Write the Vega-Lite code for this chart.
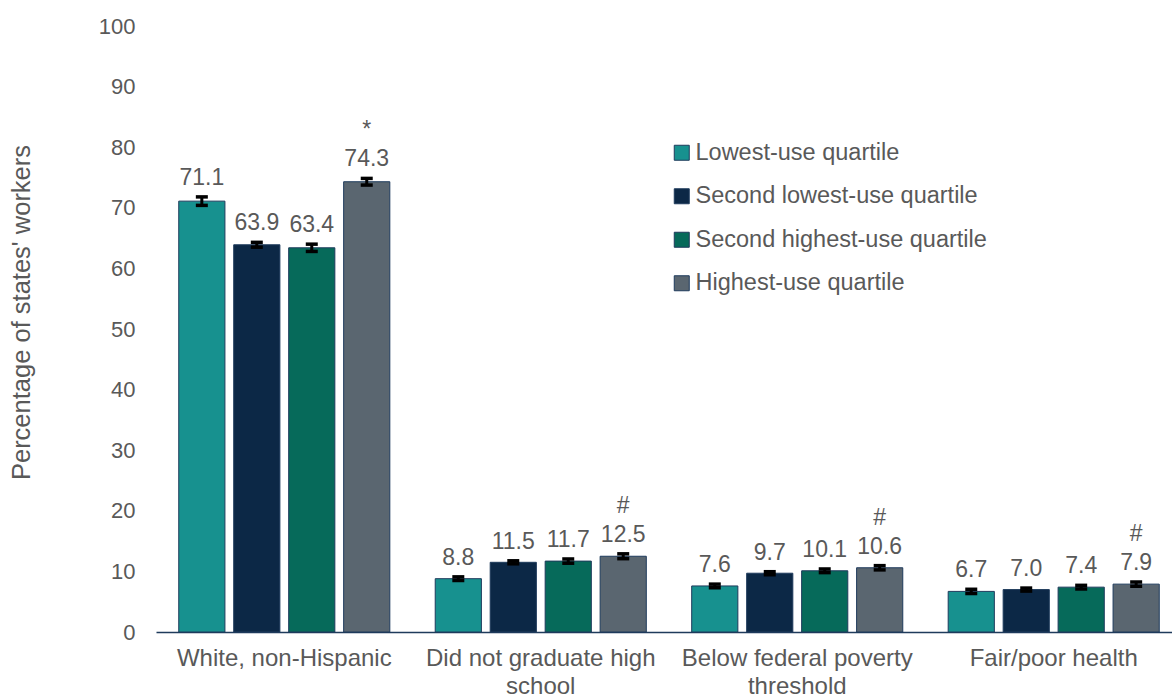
{
  "$schema": "https://vega.github.io/schema/vega-lite/v6.json",
  "width": 1016,
  "height": 606,
  "autosize": {"type": "none"},
  "padding": {"left": 156, "top": 26, "right": 0, "bottom": 66},
  "background": "#ffffff",
  "config": {
    "font": "Liberation Sans",
    "view": {"stroke": null},
    "axis": {"grid": false, "ticks": false, "labelColor": "#595959", "titleColor": "#595959", "labelFont": "Liberation Sans", "titleFont": "Liberation Sans", "titleFontWeight": "normal"}
  },
  "data": {
    "values": [
      {"group": "White, non-Hispanic", "quartile": "Lowest-use quartile", "value": 71.1, "lo": 70.4, "hi": 71.8, "note": ""},
      {"group": "White, non-Hispanic", "quartile": "Second lowest-use quartile", "value": 63.9, "lo": 63.5, "hi": 64.3, "note": ""},
      {"group": "White, non-Hispanic", "quartile": "Second highest-use quartile", "value": 63.4, "lo": 62.8, "hi": 64.0, "note": ""},
      {"group": "White, non-Hispanic", "quartile": "Highest-use quartile", "value": 74.3, "lo": 73.75, "hi": 74.85, "note": "*"},
      {"group": "Did not graduate high school", "quartile": "Lowest-use quartile", "value": 8.8, "lo": 8.5, "hi": 9.1, "note": ""},
      {"group": "Did not graduate high school", "quartile": "Second lowest-use quartile", "value": 11.5, "lo": 11.25, "hi": 11.75, "note": ""},
      {"group": "Did not graduate high school", "quartile": "Second highest-use quartile", "value": 11.7, "lo": 11.35, "hi": 12.05, "note": ""},
      {"group": "Did not graduate high school", "quartile": "Highest-use quartile", "value": 12.5, "lo": 12.1, "hi": 12.9, "note": "#"},
      {"group": "Below federal poverty threshold", "quartile": "Lowest-use quartile", "value": 7.6, "lo": 7.3, "hi": 7.9, "note": ""},
      {"group": "Below federal poverty threshold", "quartile": "Second lowest-use quartile", "value": 9.7, "lo": 9.45, "hi": 9.95, "note": ""},
      {"group": "Below federal poverty threshold", "quartile": "Second highest-use quartile", "value": 10.1, "lo": 9.8, "hi": 10.4, "note": ""},
      {"group": "Below federal poverty threshold", "quartile": "Highest-use quartile", "value": 10.6, "lo": 10.25, "hi": 10.95, "note": "#"},
      {"group": "Fair/poor health", "quartile": "Lowest-use quartile", "value": 6.7, "lo": 6.35, "hi": 7.05, "note": ""},
      {"group": "Fair/poor health", "quartile": "Second lowest-use quartile", "value": 7.0, "lo": 6.75, "hi": 7.25, "note": ""},
      {"group": "Fair/poor health", "quartile": "Second highest-use quartile", "value": 7.4, "lo": 7.1, "hi": 7.7, "note": ""},
      {"group": "Fair/poor health", "quartile": "Highest-use quartile", "value": 7.9, "lo": 7.55, "hi": 8.25, "note": "#"}
    ]
  },
  "encoding": {
    "x": {
      "field": "group",
      "type": "nominal",
      "sort": ["White, non-Hispanic", "Did not graduate high school", "Below federal poverty threshold", "Fair/poor health"],
      "scale": {"range": [0, 1026], "paddingInner": 0.177, "paddingOuter": 0.0887},
      "axis": {
        "title": null,
        "labelAngle": 0,
        "labelFontSize": 24,
        "labelPadding": 14,
        "labelLineHeight": 28,
        "labelLimit": 400,
        "domain": true,
        "domainColor": "#1F3B5C",
        "domainWidth": 1.5,
        "labelExpr": "datum.label == 'Did not graduate high school' ? ['Did not graduate high', 'school'] : datum.label == 'Below federal poverty threshold' ? ['Below federal poverty', 'threshold'] : datum.label"
      }
    },
    "xOffset": {
      "field": "quartile",
      "type": "nominal",
      "sort": ["Lowest-use quartile", "Second lowest-use quartile", "Second highest-use quartile", "Highest-use quartile"],
      "scale": {"paddingInner": 0.16, "paddingOuter": 0}
    }
  },
  "layer": [
    {
      "mark": {"type": "bar", "stroke": "#1F3B5C", "strokeWidth": 1},
      "encoding": {
        "y": {
          "field": "value",
          "type": "quantitative",
          "scale": {"domain": [0, 100], "nice": false},
          "axis": {
            "values": [0, 10, 20, 30, 40, 50, 60, 70, 80, 90, 100],
            "domain": false,
            "labelFontSize": 22,
            "labelPadding": 21,
            "title": "Percentage of states' workers",
            "titleFontSize": 25.5,
            "titleAngle": -90,
            "titleAlign": "center",
            "titleBaseline": "middle",
            "titleX": -135,
            "titleY": 286
          }
        },
        "color": {
          "field": "quartile",
          "type": "nominal",
          "sort": ["Lowest-use quartile", "Second lowest-use quartile", "Second highest-use quartile", "Highest-use quartile"],
          "scale": {
            "domain": ["Lowest-use quartile", "Second lowest-use quartile", "Second highest-use quartile", "Highest-use quartile"],
            "range": ["#17918F", "#0C2846", "#066A5A", "#5A6670"]
          },
          "legend": {
            "title": null,
            "orient": "none",
            "legendX": 514,
            "legendY": 115,
            "padding": 0,
            "symbolType": "square",
            "symbolSize": 225,
            "symbolStrokeColor": "#1F3B5C",
            "symbolStrokeWidth": 1,
            "symbolOpacity": 1,
            "labelFontSize": 23.5,
            "labelColor": "#595959",
            "labelOffset": 2,
            "labelLimit": 400,
            "rowPadding": 18.5
          }
        }
      }
    },
    {
      "mark": {"type": "rule", "color": "#000000", "strokeWidth": 3},
      "encoding": {
        "y": {"field": "lo", "type": "quantitative"},
        "y2": {"field": "hi"}
      }
    },
    {
      "mark": {"type": "tick", "color": "#000000", "size": 12, "thickness": 3.5, "opacity": 1},
      "encoding": {
        "y": {"field": "lo", "type": "quantitative"}
      }
    },
    {
      "mark": {"type": "tick", "color": "#000000", "size": 12, "thickness": 3.5, "opacity": 1},
      "encoding": {
        "y": {"field": "hi", "type": "quantitative"}
      }
    },
    {
      "mark": {"type": "text", "baseline": "bottom", "dy": -7, "fontSize": 23, "color": "#595959"},
      "encoding": {
        "y": {"field": "hi", "type": "quantitative"},
        "text": {"field": "value", "type": "quantitative", "format": ".1f"}
      }
    },
    {
      "mark": {"type": "text", "baseline": "bottom", "dy": -36, "fontSize": 23, "color": "#595959"},
      "encoding": {
        "y": {"field": "hi", "type": "quantitative"},
        "text": {"field": "note", "type": "nominal"}
      }
    }
  ]
}
